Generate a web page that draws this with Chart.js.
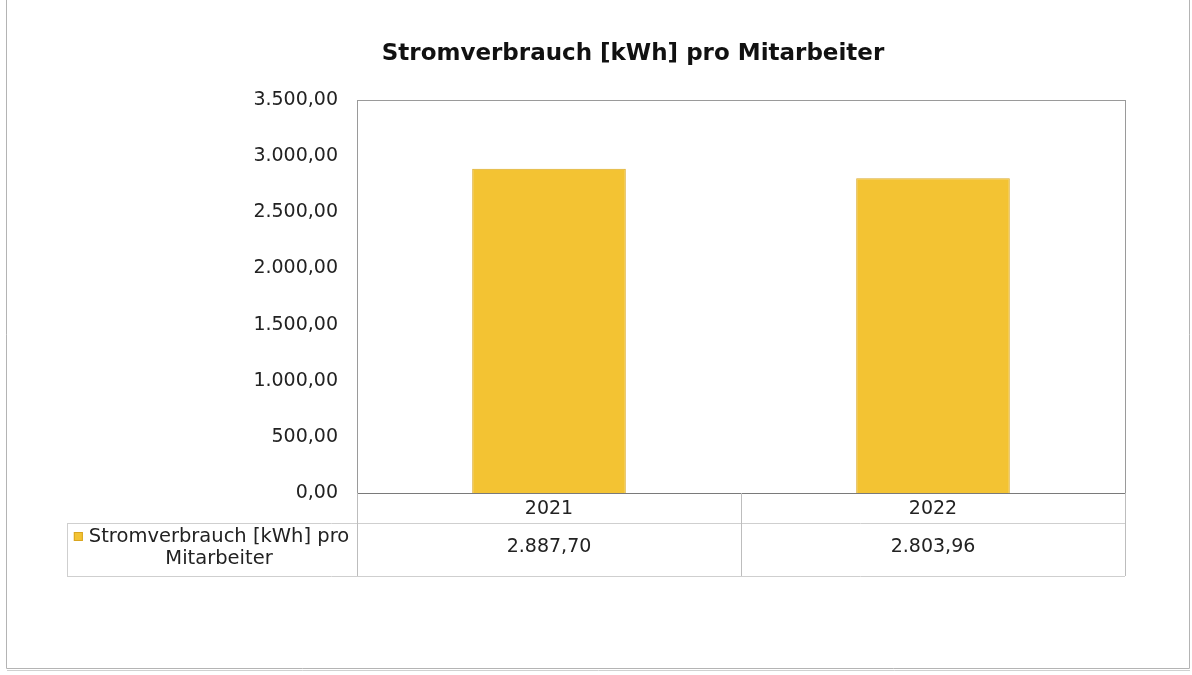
<!DOCTYPE html>
<html>
<head>
<meta charset="utf-8">
<script src="https://cdn.jsdelivr.net/npm/chart.js@4/dist/chart.umd.min.js"></script>
<style>
  html, body { margin: 0; padding: 0; background: #fff; }
  #wrap { width: 1192px; height: 675px; }
</style>
</head>
<body>
<div id="wrap"><canvas id="stromChart" width="1192" height="675"></canvas></div>
<script>
// Data
const years = ['2021', '2022'];
const verbrauch = [2887.70, 2803.96];
const seriesLabel = ['Stromverbrauch [kWh] pro', 'Mitarbeiter'];
const chartTitle = 'Stromverbrauch [kWh] pro Mitarbeiter';
const yTicks = [0, 500, 1000, 1500, 2000, 2500, 3000, 3500];

const barColor = '#f3c333';
const font = 'DejaVu Sans, Verdana, sans-serif';

// 2887.7 -> "2.887,70"
function deNum(v) {
    const parts = v.toFixed(2).split('.');
    parts[0] = parts[0].replace(/\B(?=(\d{3})+(?!\d))/g, '.');
    return parts.join(',');
}

// title, plot frame, data table and outer frame
const extras = {
    id: 'extras',
    afterDraw(chart) {
        const ctx = chart.ctx;
        const a = chart.chartArea;
        const x = chart.scales.x;
        ctx.save();

        // outer frame
        ctx.strokeStyle = '#b4b4b4';
        ctx.lineWidth = 1;
        ctx.beginPath();
        ctx.moveTo(6.5, 0); ctx.lineTo(6.5, 668.5); ctx.lineTo(1189.5, 668.5); ctx.lineTo(1189.5, 0);
        ctx.stroke();
        ctx.strokeStyle = '#d0d0d0';
        ctx.beginPath();
        ctx.moveTo(7, 670.5); ctx.lineTo(1190, 670.5);
        ctx.stroke();

        // title
        ctx.fillStyle = '#111';
        ctx.font = 'bold 23px ' + font;
        ctx.textAlign = 'center';
        ctx.textBaseline = 'middle';
        ctx.fillText(chartTitle, 633, 54);

        // plot frame
        ctx.strokeStyle = '#9a9a9a';
        ctx.strokeRect(Math.round(a.left) + 0.5, Math.round(a.top) + 0.5,
            Math.round(a.right - a.left), Math.round(a.bottom - a.top));
        ctx.strokeStyle = '#7a7a7a';
        ctx.beginPath();
        ctx.moveTo(a.left, Math.round(a.bottom) + 0.5);
        ctx.lineTo(a.right, Math.round(a.bottom) + 0.5);
        ctx.stroke();

        // data table
        const rowTop = a.bottom + 30, rowBot = a.bottom + 83, legLeft = 67;
        ctx.strokeStyle = '#cfcfcf';
        ctx.beginPath();
        ctx.moveTo(legLeft, rowTop + 0.5); ctx.lineTo(a.right, rowTop + 0.5);
        ctx.moveTo(legLeft, rowBot + 0.5); ctx.lineTo(a.right, rowBot + 0.5);
        ctx.moveTo(legLeft + 0.5, rowTop); ctx.lineTo(legLeft + 0.5, rowBot);
        ctx.stroke();
        const step = (a.right - a.left) / years.length;
        ctx.strokeStyle = '#bdbdbd';
        ctx.beginPath();
        for (let i = 0; i <= years.length; i++) {
            const vx = Math.round(a.left + i * step) + 0.5;
            ctx.moveTo(vx, a.bottom); ctx.lineTo(vx, rowBot);
        }
        ctx.stroke();

        ctx.fillStyle = '#222';
        ctx.font = '19px ' + font;
        ctx.textAlign = 'center';
        years.forEach((yr, i) => {
            const cx = x.getPixelForValue(i);
            ctx.fillText(yr, cx, a.bottom + 16);
            ctx.fillText(deNum(verbrauch[i]), cx, a.bottom + 54);
        });

        // legend cell
        ctx.font = '19.5px ' + font;
        const lx = 219;
        ctx.fillText(seriesLabel[0], lx, a.bottom + 44);
        ctx.fillText(seriesLabel[1], lx, a.bottom + 66);
        const w0 = ctx.measureText(seriesLabel[0]).width;
        ctx.fillStyle = barColor;
        ctx.fillRect(lx - w0 / 2 - 15, a.bottom + 39, 9, 9);
        ctx.strokeStyle = '#d9a520';
        ctx.strokeRect(lx - w0 / 2 - 14.5, a.bottom + 39.5, 8, 8);

        ctx.restore();
    }
};

new Chart(document.getElementById('stromChart'), {
    type: 'bar',
    data: {
        labels: years,
        datasets: [{
            label: chartTitle,
            data: verbrauch,
            backgroundColor: barColor,
            borderColor: '#dcaa2a',
            borderWidth: 1,
            barPercentage: 0.4,
            categoryPercentage: 1.0
        }]
    },
    options: {
        responsive: false,
        animation: false,
        layout: { padding: { top: 100, right: 67, bottom: 182, left: 0 } },
        plugins: {
            legend: { display: false },
            title: { display: false },
            tooltip: { enabled: false }
        },
        scales: {
            x: { display: false },
            y: {
                min: 0,
                max: 3500,
                afterBuildTicks: (s) => { s.ticks = yTicks.map(v => ({ value: v })); },
                afterFit: (s) => { s.width = 357; },
                grid: { display: false, drawTicks: false },
                border: { display: false },
                ticks: {
                    padding: 19,
                    color: '#222',
                    font: { family: font, size: 19 },
                    callback: (v) => deNum(v)
                }
            }
        }
    },
    plugins: [extras]
});
</script>
</body>
</html>
